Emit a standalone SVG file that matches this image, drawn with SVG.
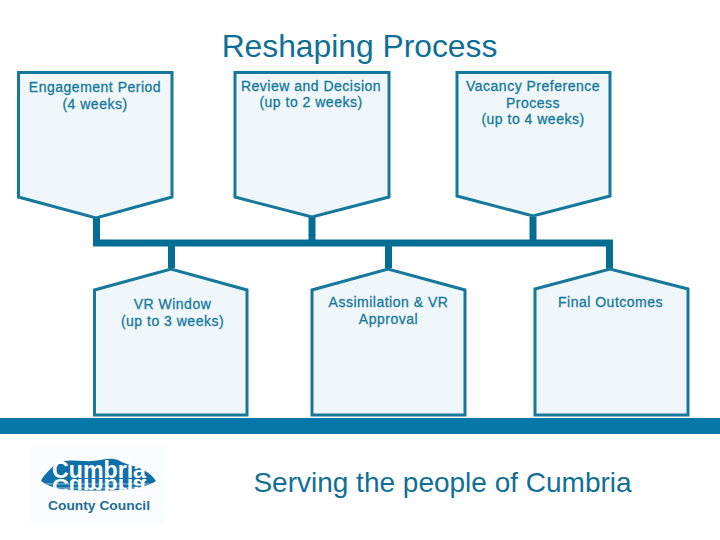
<svg xmlns="http://www.w3.org/2000/svg" width="720" height="540" viewBox="0 0 720 540">
<style>
.box{fill:#eff7fa;stroke:#16789b;stroke-width:3}
.lbl{font-family:"Liberation Sans",Arial,sans-serif;font-size:14px;letter-spacing:.5px;fill:#15799b;text-anchor:middle;stroke:#15799b;stroke-width:.3}
.big{font-family:"Liberation Sans",Arial,sans-serif;fill:#0f6f96}
.conn{fill:none;stroke:#066d92;stroke-width:7}
</style>
<rect width="720" height="540" fill="#fff"/>
<text class="big" x="359.500" y="57" font-size="31.800" text-anchor="middle">Reshaping Process</text>
<g id="connectors">
<path class="conn" d="M96.500 218V243H609.500V269"/>
<path class="conn" d="M171.500 243V268M312 217V243M388.500 243V268M533 217V243"/>
</g>
<g id="n1"><path class="box" d="M18.500 72.500H172V197L96 218L18.500 197Z"/><text class="lbl" x="95" y="92">Engagement Period</text><text class="lbl" x="95" y="109">(4 weeks)</text></g>
<g id="n2"><path class="box" d="M235 72.500H389V197L312 217L235 197Z"/><text class="lbl" x="311" y="91">Review and Decision</text><text class="lbl" x="311" y="107">(up to 2 weeks)</text></g>
<g id="n3"><path class="box" d="M457 72.500H610V196L533 216L457 196Z"/><text class="lbl" x="533" y="91">Vacancy Preference</text><text class="lbl" x="533" y="108">Process</text><text class="lbl" x="533" y="124">(up to 4 weeks)</text></g>
<g id="n4"><path class="box" d="M94.500 415H247V290L171 269L94.500 290Z"/><text class="lbl" x="172.500" y="309">VR Window</text><text class="lbl" x="172.500" y="326">(up to 3 weeks)</text></g>
<g id="n5"><path class="box" d="M312 415H465V290L388 269L312 290Z"/><text class="lbl" x="388.500" y="307">Assimilation &amp; VR</text><text class="lbl" x="388.500" y="324">Approval</text></g>
<g id="n6"><path class="box" d="M535 415H688V289L610 269L535 289Z"/><text class="lbl" x="610.500" y="307">Final Outcomes</text></g>
<rect x="0" y="418" width="720" height="16" fill="#0776a8"/>
<g id="logo">
<rect x="30" y="447" width="135" height="78" fill="#fafcfd"/>
<path d="M41 481C44 474 50 470 55 464C60 460 72 460 84 461C96 462 106 458 114 459C120 460 122 463 130 465C142 468 151 473 156 481C150 485 142 487 132 489C110 491 82 491 60 489C52 487 46 485 41 481Z" fill="#0f6fa8"/>
<text x="52" y="478" font-family="Liberation Sans,sans-serif" font-weight="700" font-size="24" textLength="94" lengthAdjust="spacingAndGlyphs" fill="#fff">Cumbria</text>
<text transform="matrix(1 0 0 -.85 0 0)" x="52" y="-563" font-family="Liberation Sans,sans-serif" font-weight="700" font-size="24" textLength="94" lengthAdjust="spacingAndGlyphs" fill="#fff">Cumbria</text>
<path d="M44 484H154M46 488H152" stroke="#fff" stroke-width=".8" fill="none" opacity=".7"/>
<text x="48" y="510" font-family="Liberation Sans,sans-serif" font-weight="700" font-size="12.500" textLength="102" lengthAdjust="spacingAndGlyphs" fill="#1c6f9c">County Council</text>
</g>
<text class="big" x="442.500" y="492" font-size="28" text-anchor="middle">Serving the people of Cumbria</text>
</svg>
